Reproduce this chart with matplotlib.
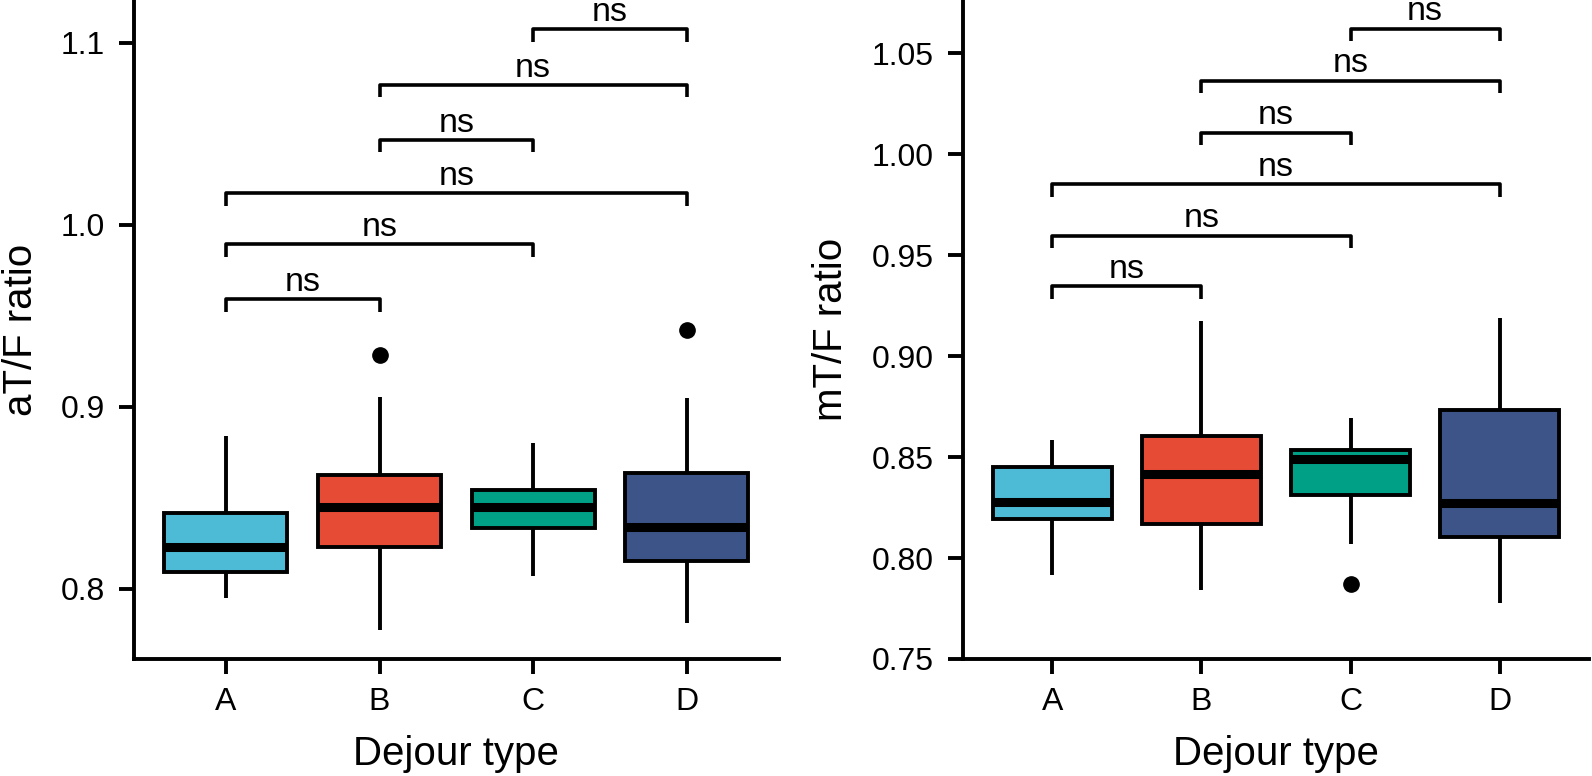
import matplotlib.pyplot as plt

plt.rcParams['font.family'] = ['Liberation Sans', 'DejaVu Sans']

groups = ['A', 'B', 'C', 'D']
colors = ['#4DBBD5', '#E64B35', '#00A087', '#3C5488']

# aT/F ratio (left panel)
at_whislo = [0.795, 0.777, 0.807, 0.781]
at_q1 = [0.809, 0.823, 0.8335, 0.815]
at_med = [0.823, 0.8447, 0.8447, 0.834]
at_q3 = [0.8414, 0.8623, 0.8542, 0.8637]
at_whishi = [0.884, 0.9054, 0.880, 0.9048]
at_fliers = [[], [0.9285], [], [0.9421]]

# mT/F ratio (right panel)
mt_whislo = [0.7914, 0.7843, 0.8069, 0.7779]
mt_q1 = [0.8196, 0.8167, 0.8314, 0.8103]
mt_med = [0.8279, 0.8417, 0.849, 0.8275]
mt_q3 = [0.8451, 0.8603, 0.8534, 0.8733]
mt_whishi = [0.8583, 0.9176, 0.8694, 0.9189]
mt_fliers = [[], [], [0.7873], []]

# pairwise comparisons
pairs = [(0, 1), (0, 2), (0, 3), (1, 2), (1, 3), (2, 3)]
pair_labels = ['ns', 'ns', 'ns', 'ns', 'ns', 'ns']
at_bracket_y = [0.959, 0.9892, 1.0175, 1.0467, 1.0769, 1.1074]
mt_bracket_y = [0.9348, 0.9598, 0.9853, 1.0108, 1.0365, 1.0623]


def make_stats(lo, q1, med, q3, hi, fliers):
    stats = []
    for i in range(len(groups)):
        stats.append(dict(whislo=lo[i], q1=q1[i], med=med[i], q3=q3[i],
                          whishi=hi[i], fliers=fliers[i], label=groups[i]))
    return stats


def draw_panel(ax, stats, bracket_y, ylim, yticks, yticklabels, ylabel, ylabel_x):
    pos = list(range(1, len(groups) + 1))
    bp = ax.bxp(stats, positions=pos, widths=0.8, patch_artist=True, showcaps=False,
                boxprops=dict(linewidth=2.8, edgecolor='black'),
                whiskerprops=dict(linewidth=2.8, color='black', solid_capstyle='butt'),
                medianprops=dict(color='black', linewidth=6.5, solid_capstyle='butt'),
                flierprops=dict(marker='o', markerfacecolor='black',
                                markeredgecolor='black', markersize=11))
    for patch, c in zip(bp['boxes'], colors):
        patch.set_facecolor(c)

    ax.set_xlim(0.4, 4.6)
    ax.set_ylim(*ylim)
    ax.set_yticks(yticks)
    ax.set_yticklabels(yticklabels)
    ax.set_xticks(pos)
    ax.set_xticklabels(groups)

    # significance brackets
    tip = (ylim[1] - ylim[0]) * 0.019
    for (i, j), y, lab in zip(pairs, bracket_y, pair_labels):
        x1, x2 = pos[i], pos[j]
        ax.plot([x1, x1, x2, x2], [y - tip, y, y, y - tip], color='black',
                lw=2.6, solid_capstyle='butt', clip_on=False)
        ax.text((x1 + x2) / 2, y + tip * 0.1, lab, ha='center', va='bottom',
                fontsize=24.5, clip_on=False)

    for s in ['top', 'right']:
        ax.spines[s].set_visible(False)
    for s in ['left', 'bottom']:
        ax.spines[s].set_linewidth(2.8)
    ax.tick_params(axis='both', direction='out', length=11, width=2.8,
                   labelsize=23, color='black')
    ax.tick_params(axis='x', pad=9)
    ax.tick_params(axis='y', pad=10)

    ax.set_xlabel('Dejour type', fontsize=29, va='baseline')
    ax.xaxis.set_label_coords(0.5, -0.161)
    ax.set_ylabel(ylabel, fontsize=29, va='center')
    ax.yaxis.set_label_coords(ylabel_x, 0.5)


fig = plt.figure(figsize=(15.92, 7.76), dpi=100)
ax1 = fig.add_axes([0.084, 0.1508, 0.4053, 0.8492])
ax2 = fig.add_axes([0.6049, 0.1508, 0.3932, 0.8492])

draw_panel(ax1, make_stats(at_whislo, at_q1, at_med, at_q3, at_whishi, at_fliers),
           at_bracket_y, (0.7613, 1.1236), [0.8, 0.9, 1.0, 1.1],
           ['0.8', '0.9', '1.0', '1.1'], 'aT/F ratio', -0.175)
draw_panel(ax2, make_stats(mt_whislo, mt_q1, mt_med, mt_q3, mt_whishi, mt_fliers),
           mt_bracket_y, (0.75, 1.0765), [0.75, 0.80, 0.85, 0.90, 0.95, 1.00, 1.05],
           ['0.75', '0.80', '0.85', '0.90', '0.95', '1.00', '1.05'], 'mT/F ratio', -0.211)

plt.savefig('out.png', dpi=100)
plt.close()
